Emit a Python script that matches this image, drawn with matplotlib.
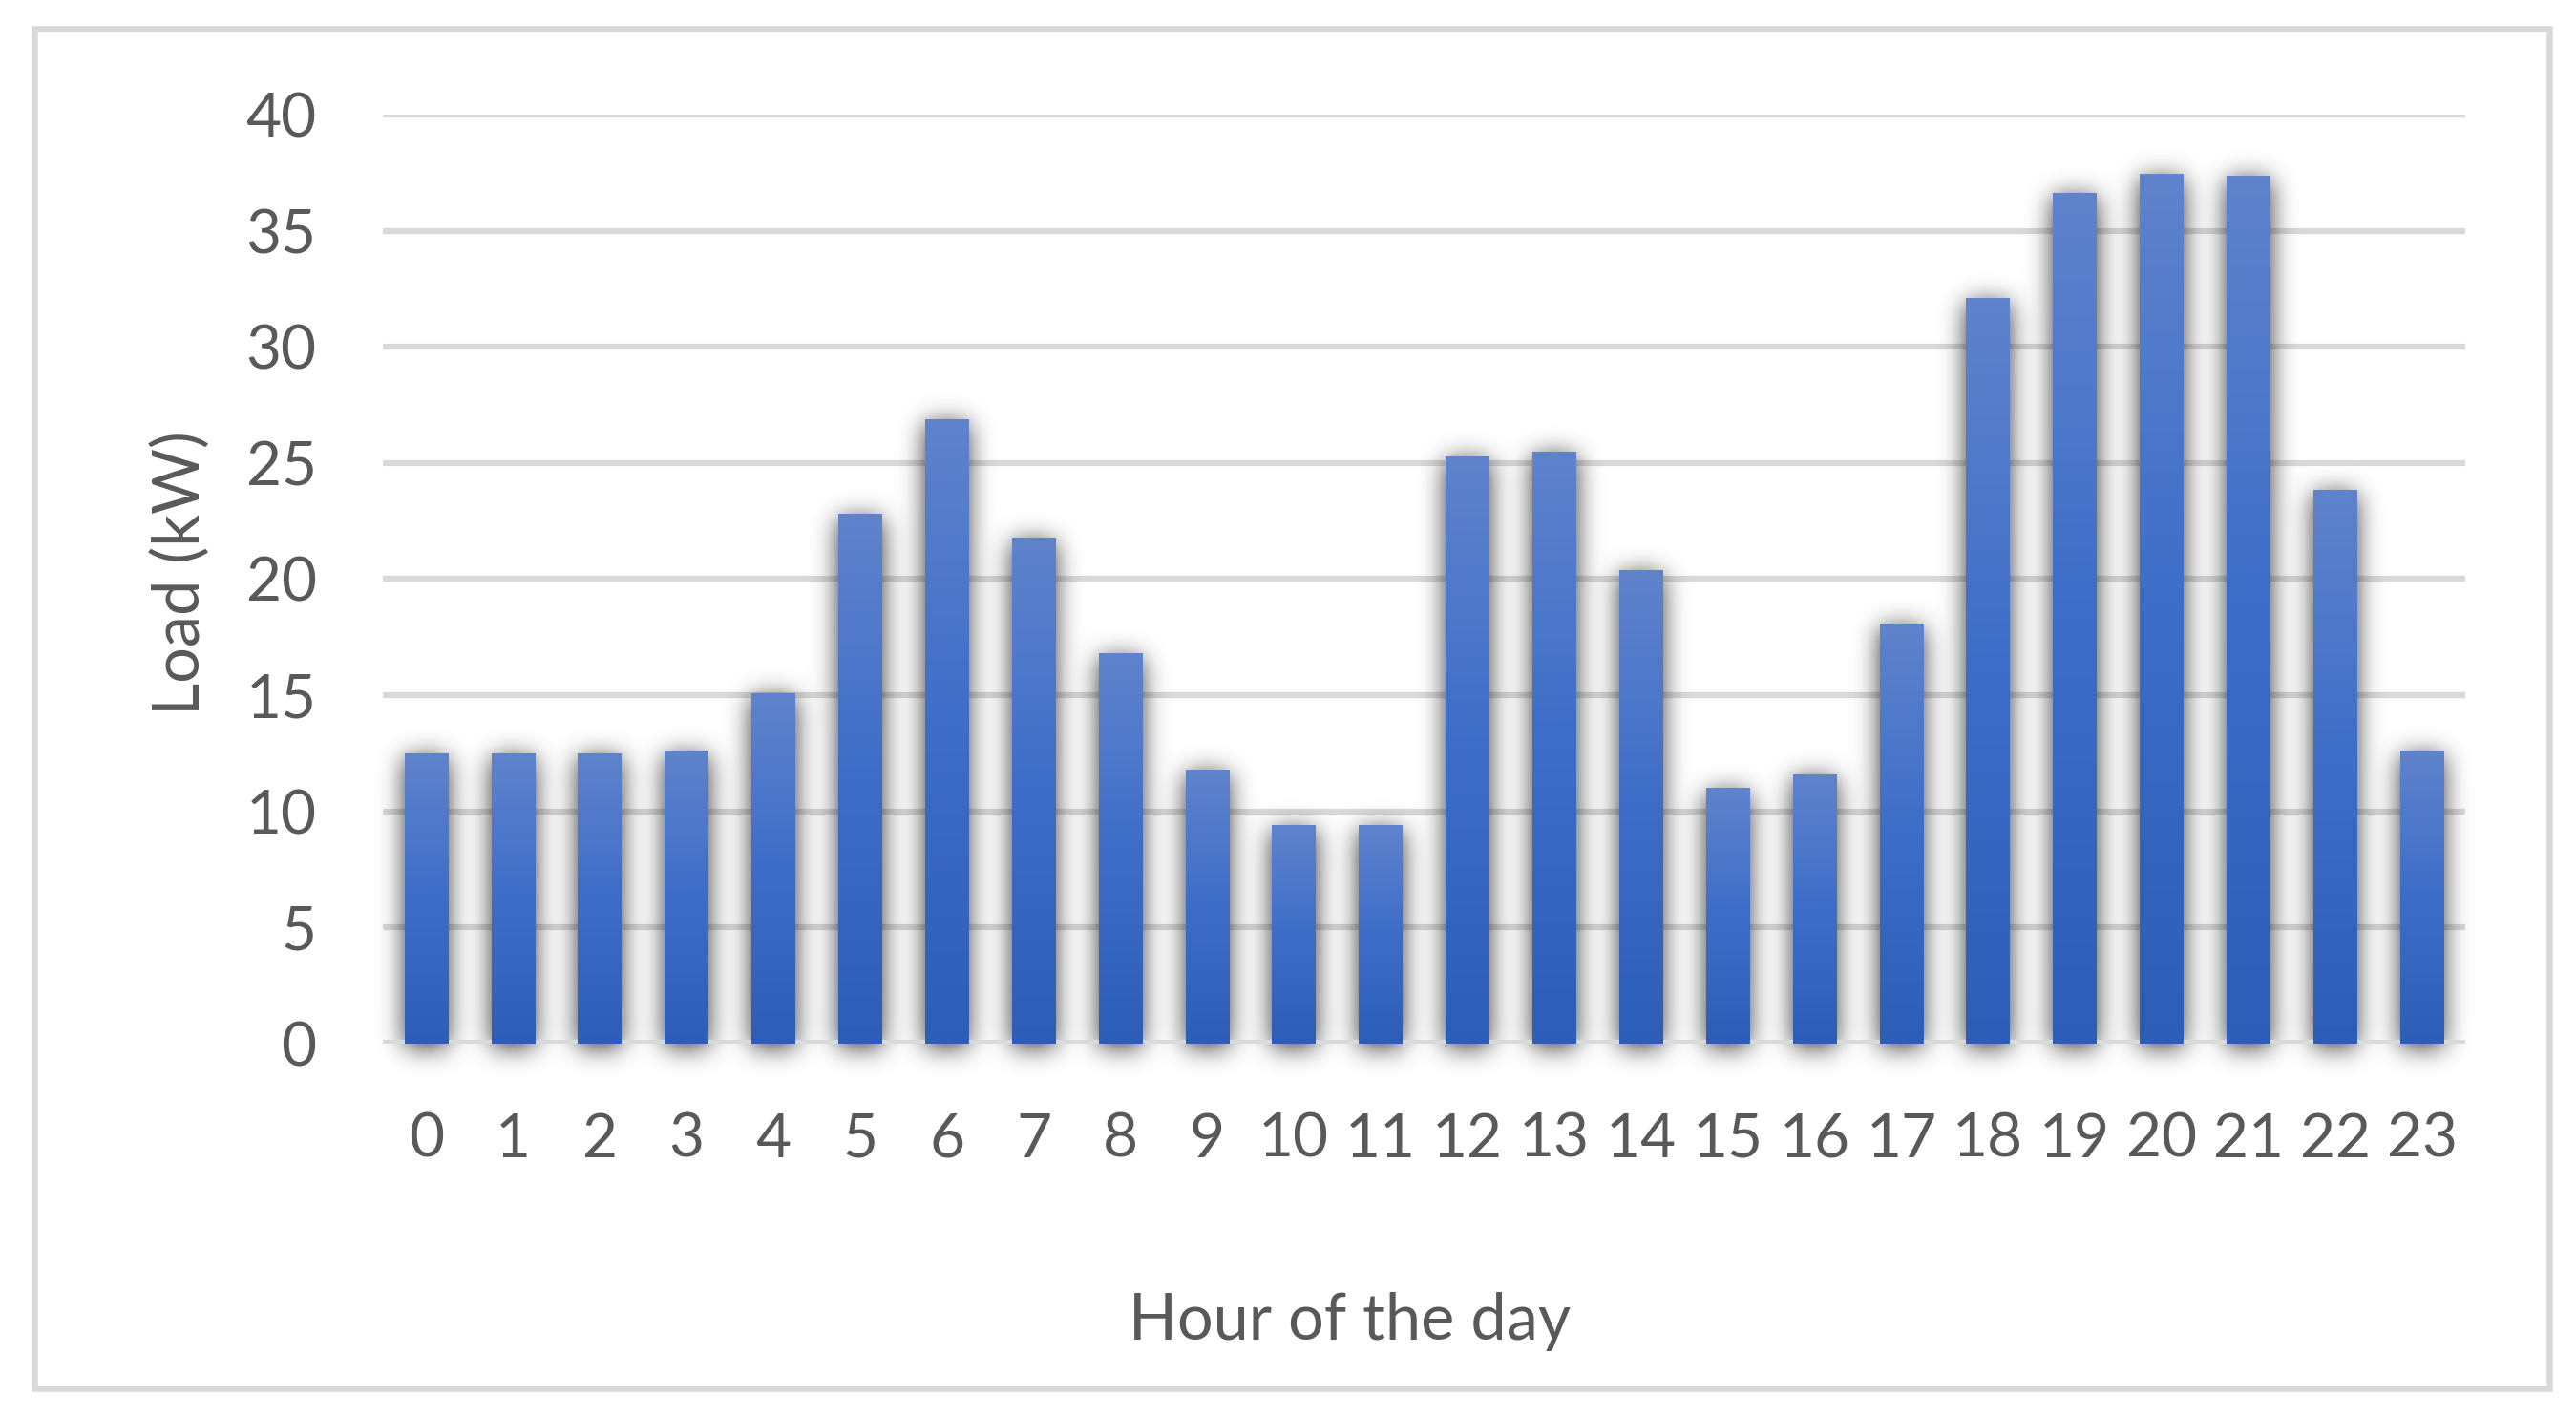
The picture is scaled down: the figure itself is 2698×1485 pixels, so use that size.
import numpy as np
import matplotlib
matplotlib.use('Agg')
import matplotlib.pyplot as plt
from matplotlib.colors import LinearSegmentedColormap
from matplotlib.patches import Rectangle

# hourly load
hours = list(range(24))
load_kw = [12.5, 12.5, 12.5, 12.6, 15.1, 22.8, 26.9, 21.8, 16.8, 11.8,
           9.4, 9.4, 25.3, 25.5, 20.4, 11.0, 11.6, 18.1, 32.1, 36.65,
           37.45, 37.4, 23.85, 12.6]
yticks = [0, 5, 10, 15, 20, 25, 30, 35, 40]
xlabel = 'Hour of the day'
ylabel = 'Load (kW)'

plt.rcParams['font.family'] = ['Lato', 'DejaVu Sans']
txt = '#595959'
grid_c = '#d9d9d9'
bar_w = 0.5

fig = plt.figure(figsize=(26.98, 14.85), dpi=100)
ax = fig.add_axes([401/2698., 392.4/1485., 2181/2698., 972.2/1485.])
ax.set_xlim(-0.5, 23.5)
ax.set_ylim(0, 40)

# gridlines
ax.set_yticks(yticks)
ax.yaxis.grid(True, color=grid_c, lw=4.5, zorder=0)
ax.set_axisbelow(True)
for s in ax.spines.values():
    s.set_visible(False)

# soft shadow under the bars: blurred mask in pixel space
pos = ax.get_position()
wpx = pos.width * fig.get_figwidth() * fig.dpi
hpx = pos.height * fig.get_figheight() * fig.dpi
dx = 24.0 / wpx
dy = 40.0 / hpx
m = 60
xs = -0.5 - m*dx + (np.arange(int(wpx) + 2*m) + 0.5) * dx
ys = -m*dy + (np.arange(int(hpx) + 2*m) + 0.5) * dy
X, Y = np.meshgrid(xs, ys)
off = 4 * dy
mask = np.zeros_like(X)
for h, v in zip(hours, load_kw):
    inside = (np.abs(X - h) < bar_w/2) & (Y >= -off) & (Y <= v - off)
    mask[inside] = 1.0
sig = 13.0
k = np.arange(-45, 46)
kern = np.exp(-0.5 * (k/sig)**2)
kern /= kern.sum()
blur = np.apply_along_axis(lambda r: np.convolve(r, kern, mode='same'), 1, mask)
blur = np.apply_along_axis(lambda c: np.convolve(c, kern, mode='same'), 0, blur)
rgba = np.zeros(blur.shape + (4,))
rgba[..., 3] = 0.8 * blur
ax.imshow(rgba, extent=[xs[0]-dx/2, xs[-1]+dx/2, ys[0]-dy/2, ys[-1]+dy/2],
          origin='lower', aspect='auto', zorder=1, clip_on=False,
          interpolation='bilinear')

# category axis line
ax.axhline(0, color=grid_c, lw=6.5, zorder=2)

# gradient bars
cmap = LinearSegmentedColormap.from_list('g', ['#2d5eb7', '#3d6dc8', '#6083cc'])
grad = np.linspace(0, 1, 256).reshape(-1, 1)
bars = ax.bar(hours, load_kw, width=bar_w, color='none', edgecolor='none', zorder=3)
for r in bars:
    x0, w, hgt = r.get_x(), r.get_width(), r.get_height()
    im = ax.imshow(grad, extent=[x0, x0 + w, 0, hgt], origin='lower',
                   aspect='auto', cmap=cmap, zorder=3)
    im.set_clip_path(r)
ax.set_xlim(-0.5, 23.5)
ax.set_ylim(0, 40)

ax.set_xticks(hours)
ax.set_xticklabels([str(h) for h in hours])
ax.tick_params(axis='both', length=0, labelsize=46, colors=txt)
ax.tick_params(axis='x', pad=52)
ax.tick_params(axis='y', pad=50)

fig.text(190/2698., 1 - 600/1485., ylabel, rotation=90, ha='center', va='center',
         fontsize=48, color=txt)
fig.text(1414/2698., 1 - 1403/1485., xlabel, ha='center', va='baseline',
         fontsize=48, color=txt)

# chart frame
fig.patches.append(Rectangle((35.5/2698., 1 - 1454/1485.), (2670-35.5)/2698., (1454-30)/1485.,
                             transform=fig.transFigure, fill=False,
                             edgecolor=grid_c, lw=4.7))

fig.savefig('out.png', dpi=100, facecolor='white')
